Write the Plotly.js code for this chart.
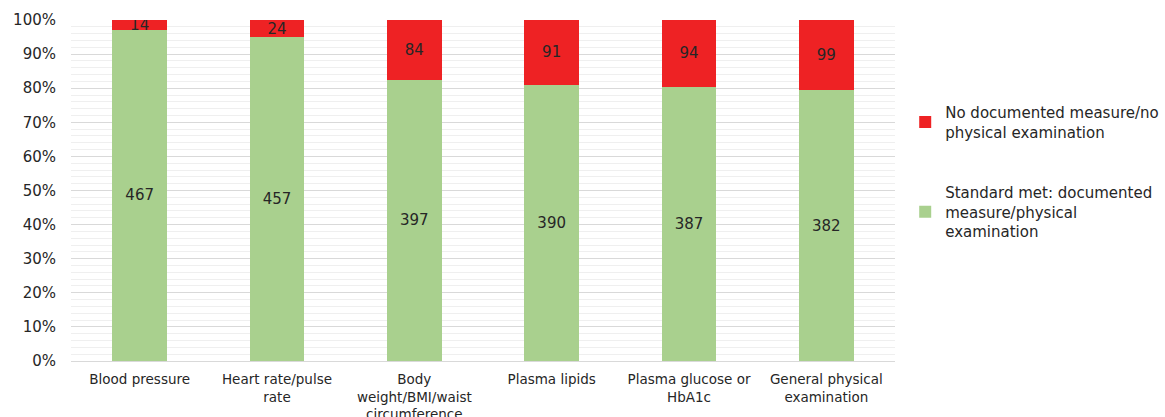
<!DOCTYPE html>
<html><head><meta charset="utf-8">
<script src="https://cdn.plot.ly/plotly-3.0.1.min.js"></script>
<style>html,body{margin:0;padding:0;background:#fff}</style>
</head><body>
<div id="chart" style="width:1165px;height:417px"></div>
<script>
const categories = ["Blood pressure", "Heart rate/pulse<br>rate", "Body<br>weight/BMI/waist<br>circumference", "Plasma lipids", "Plasma glucose or<br>HbA1c", "General physical<br>examination"];
const metValues = [467, 457, 397, 390, 387, 382];
const notMetValues = [14, 24, 84, 91, 94, 99];
const metName = "Standard met: documented<br>measure/physical<br>examination";
const notMetName = "No documented measure/no<br>physical examination";

const font = "DejaVu Sans, Verdana, sans-serif";
const traces = [
  {type:'bar', x:categories, y:metValues, name:metName, legendgroup:'b', legendrank:2,
   marker:{color:'#A9D08E'}, text:metValues.map(String), textposition:'inside',
   insidetextanchor:'middle', textfont:{color:'#262626', size:15, family:font}, hoverinfo:'none'},
  {type:'bar', x:categories, y:notMetValues, name:notMetName, legendgroup:'a', legendrank:1,
   marker:{color:'#EE2224'}, text:notMetValues.map(String), textposition:'inside',
   insidetextanchor:'middle', textfont:{color:'#262626', size:15, family:font}, hoverinfo:'none'}
];
const layout = {
  width:1165, height:417,
  margin:{l:71, r:270, t:20, b:56},
  barmode:'stack', barnorm:'percent', bargap:0.6,
  uniformtext:{mode:'show', minsize:15},
  font:{family:font, size:14, color:'#262626'},
  paper_bgcolor:'#fff', plot_bgcolor:'#fff',
  xaxis:{tickfont:{size:13.5, color:'#262626'}, showline:true, linecolor:'#d9d9d9', ticks:'', ticklabelstandoff:6},
  yaxis:{range:[0,100], dtick:10, ticksuffix:'%', gridcolor:'#d9d9d9', gridwidth:1,
         tickfont:{size:15, color:'#262626'}, zeroline:false, showline:false, ticklabelstandoff:14,
         minor:{dtick:2, showgrid:true, gridcolor:'#efefef', gridwidth:1}},
  showlegend:true,
  legend:{xref:'container', yref:'container', x:0.777, xanchor:'left', y:0.77, yanchor:'top', traceorder:'grouped',
          tracegroupgap:38, font:{size:15, color:'#262626'}, itemwidth:30, bgcolor:'rgba(0,0,0,0)'}
};
Plotly.newPlot('chart', traces, layout, {displayModeBar:false, staticPlot:true});
</script>
</body></html>
